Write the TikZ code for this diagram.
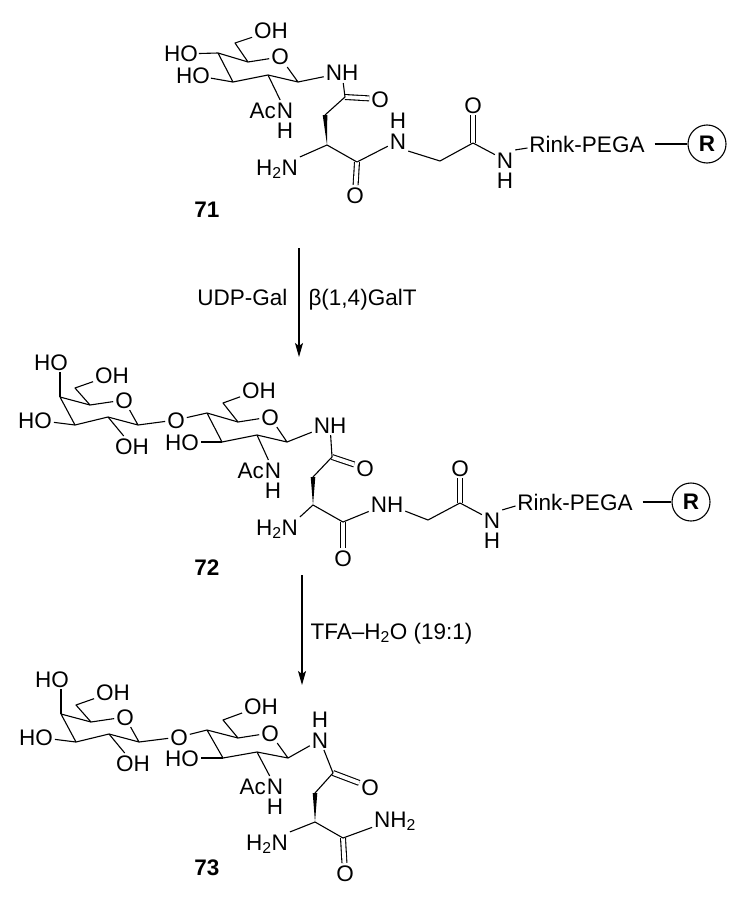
\documentclass[tikz,border=0pt]{standalone}
\usepackage{fontspec}
\setmainfont{Liberation Sans}
\usepackage{tikz}
\usetikzlibrary{positioning}
\usetikzlibrary{arrows.meta}

\tikzset{
  atom/.style={inner sep=1.5pt, text height=16pt, text depth=0pt},
  hatom/.style={inner sep=0.5pt, text height=16pt, text depth=0pt},
  dbond/.style={double, double distance=3.8pt},
  resin/.style={circle, draw, minimum size=38pt, inner sep=0pt, font=\fontsize{22.5}{27}\selectfont\bfseries},
  cmpd/.style={inner sep=1pt, font=\fontsize{22.5}{27}\selectfont\bfseries},
  cond/.style={inner sep=1pt, text height=16pt, text depth=0pt},
  rxn/.style={-{Stealth[length=14pt, width=8pt, inset=3pt]}},
}

\begin{document}
\begin{tikzpicture}[x=1pt, y=-1pt, font=\fontsize{22.5}{27}\selectfont,
    line width=1.1pt, line join=round]

  \useasboundingbox (0,0) rectangle (738,899);

  % ---------- 71 ----------
  % GlcNAc ring
  \coordinate (c4_a) at (218,53);
  \coordinate (c5_a) at (248,62);
  \node[atom] (o5_a) at (280,57) {O};
  \coordinate (c1_a) at (298,82);
  \coordinate (c2_a) at (268,75);
  \coordinate (c3_a) at (233,82);
  \coordinate (c6_a) at (235,43);
  \node[atom] (o6_a) at (271,31) {OH};
  \node[hatom] (o4_a) at (181,54) {HO};
  \node[hatom] (o3_a) at (193,75) {HO};
  \node[atom, inner xsep=0pt] (n2_a) at (285,110) {N};
  \node[hatom, inner xsep=0pt, left=0pt of n2_a] (ac_a) {Ac};
  \node[hatom, below=1.5pt of n2_a] (hn2_a) {H};
  \node[atom] (n1_a) at (342,73) {NH};

  % Asn-Gly-Rink
  \coordinate (k1_a) at (345,97);
  \node[atom] (ok1_a) at (380,99) {O};
  \coordinate (cb_a) at (325,115);
  \coordinate (ca_a) at (327,145);
  \node[atom] (nh2_a) at (277,167) {H\textsubscript{2}N};
  \coordinate (k2_a) at (357,162);
  \node[atom] (ok2_a) at (355,195) {O};
  \node[atom] (n3_a) at (398,141) {N};
  \node[hatom, above=1.5pt of n3_a] (hn3_a) {H};
  \coordinate (cg_a) at (440,161);
  \coordinate (k3_a) at (473,143);
  \node[atom] (ok3_a) at (473,105) {O};
  \node[atom] (n4_a) at (505,160) {N};
  \node[hatom, below=1.5pt of n4_a] (hn4_a) {H};
  \node[atom] (rink_a) at (587,144) {Rink-PEGA};
  \node[resin] (res_a) at (707,144) {R};
  \node[cmpd] (lbl_a) at (207,210) {71};

  % bonds
  \draw[dbond] (k1_a) -- (ok1_a);
  \draw[dbond] (k2_a) -- (ok2_a);
  \draw[dbond] (k3_a) -- (ok3_a);
  \draw (c4_a) -- (c5_a) -- (o5_a) -- (c1_a) -- (c2_a) -- (c3_a) -- (c4_a);
  \draw (c5_a) -- (c6_a) -- (o6_a);
  \draw (c4_a) -- (o4_a);
  \draw (c3_a) -- (o3_a);
  \draw (c2_a) -- (n2_a);
  \draw (c1_a) -- (n1_a);
  \draw (n1_a) -- (k1_a) -- (cb_a);
  \fill (ca_a) -- ([xshift=2.3pt]cb_a) -- ([xshift=-2.3pt]cb_a) -- cycle;
  \draw (ca_a) -- (nh2_a.north east);
  \draw (ca_a) -- (k2_a) -- (n3_a);
  \draw (n3_a.south east) -- (cg_a) -- (k3_a) -- (n4_a);
  \draw (n4_a.north east) -- ([yshift=-4pt]rink_a.west);
  \draw[shorten <=8pt] (rink_a) -- (res_a);

  % ---------- step 1 ----------
  \coordinate (ar1_s) at (299,248);
  \coordinate (ar1_e) at (299,357);
  \draw[rxn] (ar1_s) -- (ar1_e);
  \node[cond, anchor=east] (cond1_l) at (289,297) {UDP-Gal};
  \node[cond, anchor=west] (cond1_r) at (307,297) {β(1,4)GalT};

  % ---------- 72 ----------
  % Gal ring
  \coordinate (g4_b) at (60,397);
  \coordinate (g5_b) at (90,405);
  \node[atom] (go5_b) at (124,400) {O};
  \coordinate (g1_b) at (138,425);
  \coordinate (g2_b) at (108,417);
  \coordinate (g3_b) at (75,425);
  \coordinate (g6_b) at (75,388);
  \node[atom] (go4_b) at (51,362) {HO};
  \node[atom] (go6_b) at (112,375) {OH};
  \node[atom] (go3_b) at (35,420) {HO};
  \node[atom] (go2_b) at (132,446) {OH};
  \node[atom] (o1_b) at (176,420) {O};

  % GlcNAc ring
  \coordinate (c4_b) at (207,413);
  \coordinate (c5_b) at (238,422);
  \node[atom] (o5_b) at (270,417) {O};
  \coordinate (c1_b) at (287,442);
  \coordinate (c2_b) at (257,435);
  \coordinate (c3_b) at (222,442);
  \coordinate (c6_b) at (223,403);
  \node[atom] (o6_b) at (259,390) {OH};
  \node[atom] (o3_b) at (182,442) {HO};
  \node[atom, inner xsep=0pt] (n2_b) at (273,470) {N};
  \node[hatom, inner xsep=0pt, left=0pt of n2_b] (ac_b) {Ac};
  \node[hatom, below=1.5pt of n2_b] (hn2_b) {H};
  \node[atom] (n1_b) at (330,425) {NH};

  % Asn-Gly-Rink
  \coordinate (k1_b) at (332,457);
  \node[atom] (ok1_b) at (365,468) {O};
  \coordinate (cb_b) at (313,477);
  \coordinate (ca_b) at (313,505);
  \node[atom] (nh2_b) at (277,527) {H\textsubscript{2}N};
  \coordinate (k2_b) at (343,522);
  \node[atom] (ok2_b) at (343,558) {O};
  \node[atom] (n3_b) at (387,504) {NH};
  \coordinate (cg_b) at (428,520);
  \coordinate (k3_b) at (460,503);
  \node[atom] (ok3_b) at (460,468) {O};
  \node[atom] (n4_b) at (492,520) {N};
  \node[hatom, below=1.5pt of n4_b] (hn4_b) {H};
  \node[atom] (rink_b) at (575,502) {Rink-PEGA};
  \node[resin] (res_b) at (691,502) {R};
  \node[cmpd] (lbl_b) at (207,568) {72};

  % bonds
  \draw[dbond] (k1_b) -- (ok1_b);
  \draw[dbond] (k2_b) -- (ok2_b);
  \draw[dbond] (k3_b) -- (ok3_b);
  \draw (g4_b) -- (g5_b) -- (go5_b) -- (g1_b) -- (g2_b) -- (g3_b) -- (g4_b);
  \draw (g4_b) -- (go4_b.south -| g4_b);
  \draw (g5_b) -- (g6_b) -- (go6_b);
  \draw (g3_b) -- (go3_b);
  \draw (g2_b) -- (go2_b);
  \draw (g1_b) -- (o1_b) -- (c4_b);
  \draw (c4_b) -- (c5_b) -- (o5_b) -- (c1_b) -- (c2_b) -- (c3_b) -- (c4_b);
  \draw (c5_b) -- (c6_b) -- (o6_b);
  \draw (c3_b) -- (o3_b);
  \draw (c2_b) -- (n2_b);
  \draw (c1_b) -- (n1_b);
  \draw (n1_b) -- (k1_b) -- (cb_b);
  \fill (ca_b) -- ([xshift=2.3pt]cb_b) -- ([xshift=-2.3pt]cb_b) -- cycle;
  \draw (ca_b) -- (nh2_b.north east);
  \draw (ca_b) -- (k2_b) -- (n3_b);
  \draw (n3_b) -- (cg_b) -- (k3_b) -- (n4_b);
  \draw (n4_b.north east) -- ([yshift=-4pt]rink_b.west);
  \draw[shorten <=8pt] (rink_b) -- (res_b);

  % ---------- step 2 ----------
  \coordinate (ar2_s) at (302,575);
  \coordinate (ar2_e) at (302,685);
  \draw[rxn] (ar2_s) -- (ar2_e);
  \node[cond, anchor=west] (cond2) at (309,631) {TFA--H\textsubscript{2}O (19:1)};

  % ---------- 73 ----------
  % Gal ring
  \coordinate (g4_c) at (61,714);
  \coordinate (g5_c) at (91,722);
  \node[atom] (go5_c) at (125,717) {O};
  \coordinate (g1_c) at (139,742);
  \coordinate (g2_c) at (109,734);
  \coordinate (g3_c) at (76,742);
  \coordinate (g6_c) at (76,705);
  \node[atom] (go4_c) at (52,679) {HO};
  \node[atom] (go6_c) at (113,692) {OH};
  \node[atom] (go3_c) at (36,737) {HO};
  \node[atom] (go2_c) at (133,763) {OH};
  \node[atom] (o1_c) at (179,737) {O};

  % GlcNAc ring
  \coordinate (c4_c) at (207,730);
  \coordinate (c5_c) at (238,738);
  \node[atom] (o5_c) at (270,733) {O};
  \coordinate (c1_c) at (288,758);
  \coordinate (c2_c) at (257,752);
  \coordinate (c3_c) at (223,758);
  \coordinate (c6_c) at (223,720);
  \node[atom] (o6_c) at (261,706) {OH};
  \node[atom] (o3_c) at (182,758) {HO};
  \node[atom, inner xsep=0pt] (n2_c) at (275,786) {N};
  \node[hatom, inner xsep=0pt, left=0pt of n2_c] (ac_c) {Ac};
  \node[hatom, below=1.5pt of n2_c] (hn2_c) {H};
  \node[atom] (n1_c) at (320,740) {N};
  \node[hatom, above=1.5pt of n1_c] (hn1_c) {H};

  % Asn amide
  \coordinate (k1_c) at (333,773);
  \node[atom] (ok1_c) at (370,787) {O};
  \coordinate (cb_c) at (315,793);
  \coordinate (ca_c) at (315,822);
  \node[atom] (nh2_c) at (267,842) {H\textsubscript{2}N};
  \coordinate (k2_c) at (343,838);
  \node[atom] (ok2_c) at (345,873) {O};
  \node[atom] (nh3_c) at (395,819) {NH\textsubscript{2}};
  \node[cmpd] (lbl_c) at (207,868) {73};

  % bonds
  \draw[dbond] (k1_c) -- (ok1_c);
  \draw[dbond] (k2_c) -- (ok2_c);
  \draw (g4_c) -- (g5_c) -- (go5_c) -- (g1_c) -- (g2_c) -- (g3_c) -- (g4_c);
  \draw (g4_c) -- (go4_c.south -| g4_c);
  \draw (g5_c) -- (g6_c) -- (go6_c);
  \draw (g3_c) -- (go3_c);
  \draw (g2_c) -- (go2_c);
  \draw (g1_c) -- (o1_c) -- (c4_c);
  \draw (c4_c) -- (c5_c) -- (o5_c) -- (c1_c) -- (c2_c) -- (c3_c) -- (c4_c);
  \draw (c5_c) -- (c6_c) -- (o6_c);
  \draw (c3_c) -- (o3_c);
  \draw (c2_c) -- (n2_c);
  \draw (c1_c) -- (n1_c);
  \draw (n1_c) -- (k1_c) -- (cb_c);
  \fill (ca_c) -- ([xshift=2.3pt]cb_c) -- ([xshift=-2.3pt]cb_c) -- cycle;
  \draw (ca_c) -- (nh2_c.north east);
  \draw (ca_c) -- (k2_c) -- (nh3_c);

\end{tikzpicture}
\end{document}
